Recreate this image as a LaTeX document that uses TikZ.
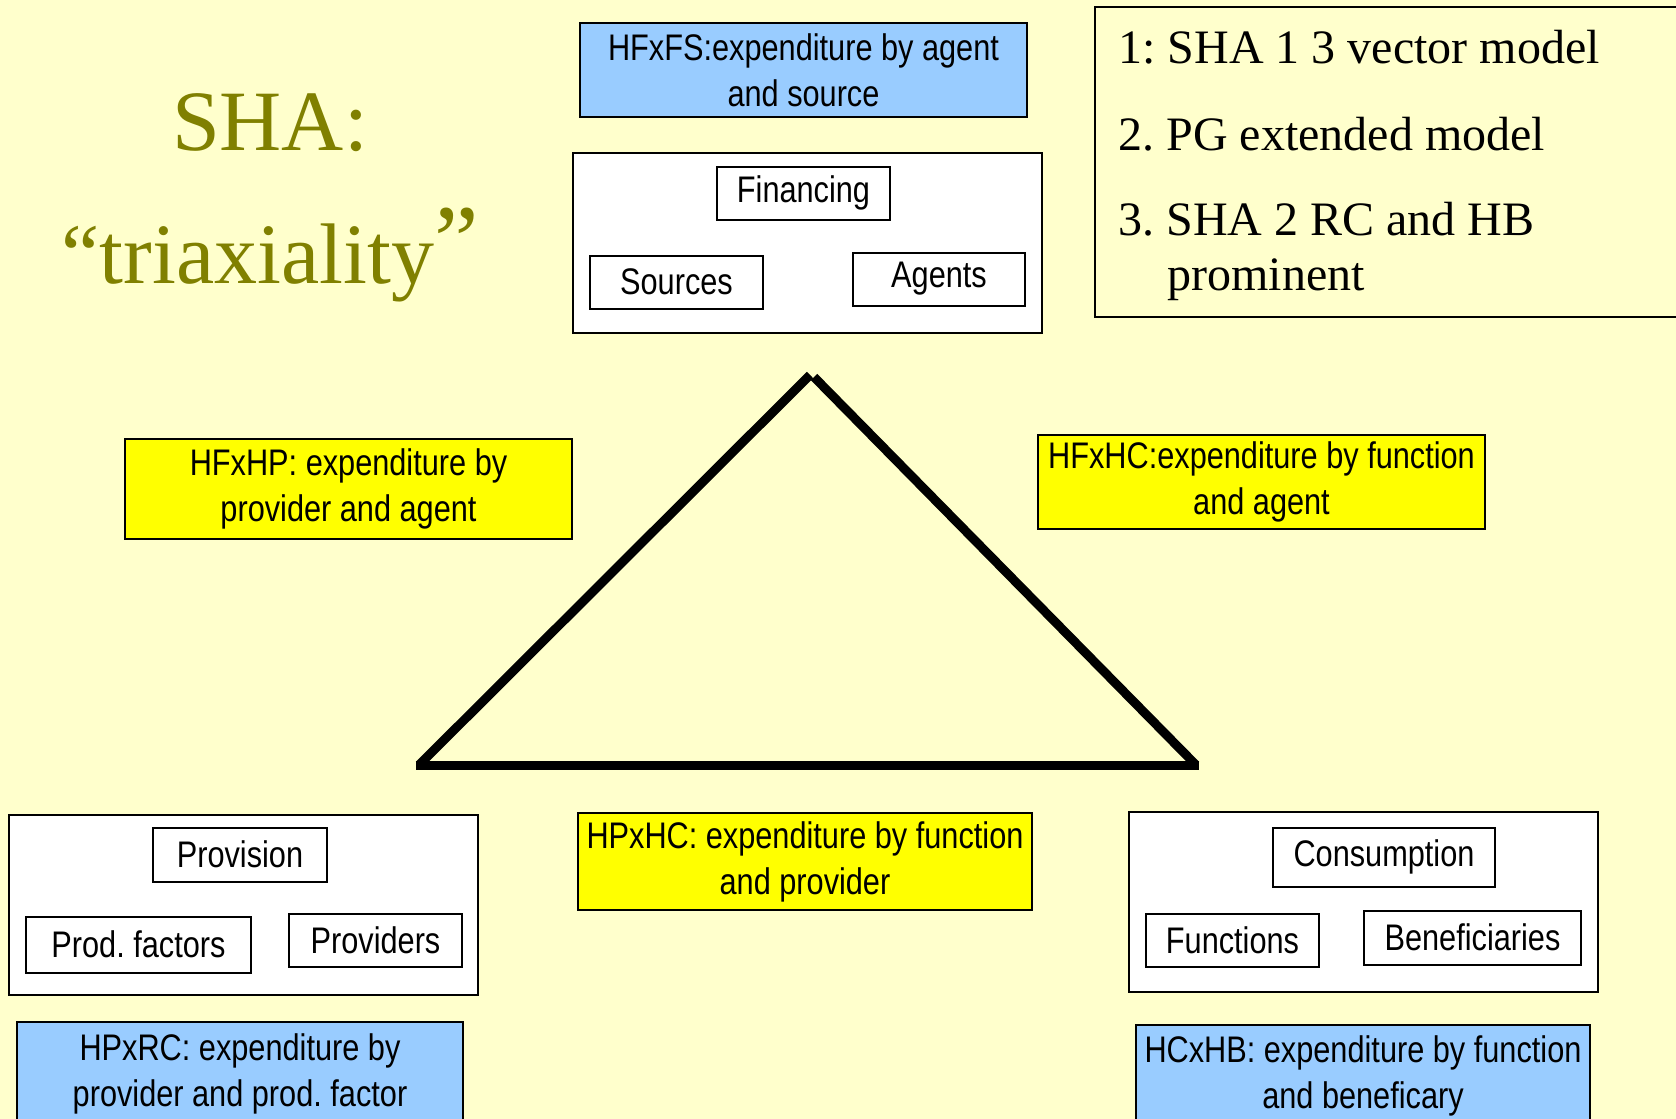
\documentclass[tikz,border=0pt]{standalone}
\usepackage{fontspec}
\setmainfont{Liberation Serif}
\newfontfamily\narsans[FakeStretch=0.83]{Liberation Sans}
\definecolor{bgyellow}{HTML}{FFFFCC}
\definecolor{titleolive}{HTML}{808000}
\definecolor{boxblue}{HTML}{99CCFF}
\definecolor{boxyellow}{HTML}{FFFF00}
\frenchspacing
\begin{document}
\begin{tikzpicture}[x=0.5pt,y=-0.5pt,
  lbl/.style={draw=black, line width=1pt, inner sep=0pt, align=center,
    font={\narsans\frenchspacing\fontsize{18.5}{23}\selectfont}},
  bluebox/.style={lbl, fill=boxblue},
  yellowbox/.style={lbl, fill=boxyellow},
  whitebox/.style={lbl, fill=white},
  listtext/.style={anchor=base west, inner sep=0pt, font={\frenchspacing\fontsize{24}{28}\selectfont}},
  titletext/.style={anchor=base, inner sep=0pt, text=titleolive, font={\fontsize{43}{43}\selectfont}},
  triline/.style={line width=4.5pt, line cap=butt}
]
\fill[bgyellow] (0,0) rectangle (1676,1119);
\useasboundingbox (0,0) rectangle (1676,1119);
\clip (0,0) rectangle (1676,1119);

% title
\node[titletext] (sha) at (270,150) {SHA:};
\node[titletext] (triax) at (270,283) {“triaxiality\raisebox{4.5pt}{\fontsize{50}{50}\selectfont ”}};

% list box
\node[draw=black, line width=1pt, minimum width=302.5pt, minimum height=155pt, inner sep=0pt] (listbox) at (1397.5,162) {};
\node[listtext] (l1) at (1118,63) {1: SHA 1 3 vector model};
\node[listtext] (l2) at (1118,150) {2. PG extended model};
\node[listtext] (l3) at (1118,235) {3. SHA 2 RC and HB};
\node[listtext] (l4) at (1167,290) {prominent};

% financing group
\node[bluebox, minimum width=223.5pt, minimum height=47pt] (hfxfs) at (803.5,70) {HFxFS:expenditure by agent\\and source};
\node[whitebox, minimum width=234.5pt, minimum height=90pt] (finouter) at (807.5,243) {};
\node[whitebox, minimum width=86.5pt, minimum height=26.5pt] (financing) at (803.5,193) {Financing};
\node[whitebox, minimum width=86.5pt, minimum height=26.5pt] (sources) at (676.5,282) {Sources};
\node[whitebox, minimum width=86pt, minimum height=26.5pt] (agents) at (939,279) {Agents};

% side labels
\node[yellowbox, minimum width=223.5pt, minimum height=50pt] (hfxhp) at (348.5,489) {HFxHP: expenditure by\\provider and agent};
\node[yellowbox, minimum width=223.5pt, minimum height=47pt] (hfxhc) at (1261.5,482) {HFxHC:expenditure by function\\and agent};

% triangle
\coordinate (apexl) at (810,375);
\coordinate (apexr) at (814,377);
\coordinate (bl) at (419,765);
\coordinate (br) at (1196,765);
\coordinate (bbl) at (416,765);
\coordinate (bbr) at (1199,765);
\draw[triline] (bl) -- (apexl);
\draw[triline] (apexr) -- (br);
\draw[triline] (bbl) -- (bbr);

% provision group
\node[whitebox, minimum width=234.5pt, minimum height=90pt] (provouter) at (243.5,905) {};
\node[whitebox, minimum width=87pt, minimum height=27pt] (provision) at (240,854.5) {Provision};
\node[whitebox, minimum width=112.5pt, minimum height=28pt] (prodfactors) at (138.5,944.5) {Prod. factors};
\node[whitebox, minimum width=86.5pt, minimum height=26.5pt] (providers) at (375.5,940) {Providers};
\node[bluebox, minimum width=223pt, minimum height=51.5pt] (hpxrc) at (240,1073.5) {HPxRC: expenditure by\\provider and prod. factor};

% centre bottom
\node[yellowbox, minimum width=227pt, minimum height=48.5pt] (hpxhc) at (805,861.5) {HPxHC: expenditure by function\\and provider};

% consumption group
\node[whitebox, minimum width=234.5pt, minimum height=90pt] (consouter) at (1363.5,902) {};
\node[whitebox, minimum width=111pt, minimum height=29.5pt] (consumption) at (1384,857) {Consumption};
\node[whitebox, minimum width=86.5pt, minimum height=26.5pt] (functions) at (1232.5,940) {Functions};
\node[whitebox, minimum width=108.5pt, minimum height=27pt] (beneficiaries) at (1472.5,937.5) {Beneficiaries};
\node[bluebox, minimum width=227pt, minimum height=51pt] (hcxhb) at (1363,1076) {HCxHB: expenditure by function\\and beneficary};
\end{tikzpicture}
\end{document}
